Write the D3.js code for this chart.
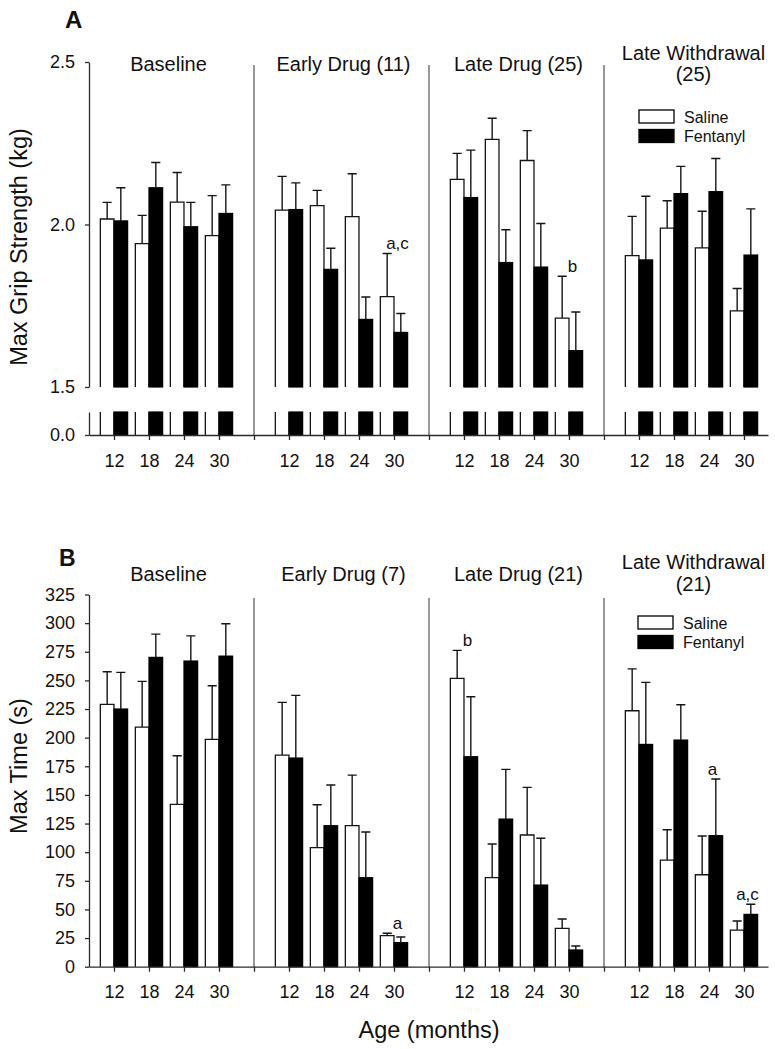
<!DOCTYPE html>
<html><head><meta charset="utf-8">
<script src="https://cdn.jsdelivr.net/npm/d3@7"></script>
<style>
body{margin:0;background:#fff}
svg text{font-family:"Liberation Sans",Arial,Helvetica,sans-serif;fill:#111}
</style>
</head><body>
<svg id="c" width="775" height="1049"></svg>
<script>
// ---------- data ----------
const ages = [12, 18, 24, 30];
const phasesA = [["Baseline"], ["Early Drug (11)"], ["Late Drug (25)"], ["Late Withdrawal", "(25)"]];
const phasesB = [["Baseline"], ["Early Drug (7)"], ["Late Drug (21)"], ["Late Withdrawal", "(21)"]];
const seriesNames = ["Saline", "Fentanyl"];

// Panel A: max grip strength (kg), 4 phases x 4 ages
const gripSaline    = [2.017, 1.941, 2.069, 1.966,  2.044, 2.058, 2.024, 1.778,  2.139, 2.262, 2.197, 1.712,  1.904, 1.989, 1.928, 1.734];
const gripSalineSem = [0.051, 0.087, 0.091, 0.123,  0.104, 0.047, 0.132, 0.133,  0.080, 0.065, 0.092, 0.129,  0.121, 0.084, 0.113, 0.069];
const gripFent      = [2.011, 2.113, 1.993, 2.034,  2.046, 1.862, 1.708, 1.668,  2.083, 1.883, 1.869, 1.612,  1.891, 2.095, 2.101, 1.906];
const gripFentSem   = [0.102, 0.078, 0.075, 0.088,  0.082, 0.065, 0.069, 0.058,  0.146, 0.101, 0.134, 0.119,  0.196, 0.084, 0.102, 0.142];
const gripTicks = [1.5, 2.0, 2.5];
const gripLowTicks = [0.0];
const gripNotes = [{phase: 1, age: 3, text: "a,c"}, {phase: 2, age: 3, text: "b"}];

// Panel B: max time (s)
const timeSaline    = [229.0, 209.2, 141.8, 198.5,  184.8, 103.9, 123.1, 27.1,  251.7, 77.7, 115.0, 33.5,  223.5, 93.1, 80.3, 32.0];
const timeSalineSem = [28.5, 39.9, 42.4, 46.8,  46.0, 37.5, 44.2, 2.1,  24.5, 29.4, 41.6, 8.1,  36.6, 26.5, 33.8, 7.9];
const timeFent      = [225.0, 270.1, 266.9, 271.2,  182.2, 123.1, 77.7, 21.0,  183.3, 128.9, 71.3, 14.6,  194.1, 197.9, 114.4, 45.7];
const timeFentSem   = [32.0, 20.3, 22.0, 28.2,  54.7, 35.5, 39.9, 4.9,  52.4, 43.4, 40.8, 3.5,  54.2, 30.8, 49.5, 8.8];
const timeTicks = d3.range(0, 326, 25);
const timeNotes = [{phase: 1, age: 3, text: "a"}, {phase: 2, age: 0, text: "b"}, {phase: 3, age: 1 + 1, text: "a"}, {phase: 3, age: 3, text: "a,c"}];

// ---------- drawing ----------
const svg = d3.select("#c");
const FONT = '"Liberation Sans",Arial,Helvetica,sans-serif';
const INK = "#151515";
const LINE = "#2a2a2a";

const x = d3.scaleLinear().domain([-0.714, 18.686]).range([89, 768]);
const slot = (p, a) => p * 5 + a;
const BW = 0.39, CAP = 0.13;
const dividers = [4, 9, 14];

function styleAxis(g, fs) {
  g.attr("font-family", FONT).attr("font-size", fs);
  g.selectAll("path.domain").attr("stroke", LINE).attr("stroke-width", 1.3);
  g.selectAll(".tick line").attr("stroke", LINE).attr("stroke-width", 1.3);
  g.selectAll(".tick text").attr("fill", INK);
}

function xAxis(y0) {
  const tv = [];
  for (let p = 0; p < 4; p++) for (let a = 0; a < 4; a++) tv.push(slot(p, a));
  dividers.forEach(d => tv.push(d));
  const g = svg.append("g").attr("transform", `translate(0,${y0})`)
    .call(d3.axisBottom(x).tickValues(tv).tickFormat(d => (d % 5 === 4 ? "" : ages[d % 5]))
      .tickSize(5).tickSizeOuter(0).tickPadding(14));
  styleAxis(g, 18);
}

function dividerLines(yTop, y0) {
  svg.append("g").selectAll("line").data(dividers).join("line")
    .attr("x1", d => x(d)).attr("x2", d => x(d))
    .attr("y1", yTop).attr("y2", y0)
    .attr("stroke", "#444").attr("stroke-width", 1.1);
}

function titles(phases, y1, lineH) {
  phases.forEach((lines, p) => {
    const cx = (x(slot(p, 0)) + x(slot(p, 3))) / 2 + 2;
    const n = lines.length;
    lines.forEach((t, i) => {
      svg.append("text").attr("x", cx)
        .attr("y", n === 1 ? y1 : y1 - lineH + 10 + i * lineH)
        .attr("text-anchor", "middle").attr("font-size", 20).text(t);
    });
  });
}

function legend(x0, y0) {
  seriesNames.forEach((s, i) => {
    svg.append("rect").attr("x", x0).attr("y", y0 + i * 19.5).attr("width", 35).attr("height", 13)
      .attr("fill", i ? "#000" : "#fff").attr("stroke", "#000").attr("stroke-width", 1.3);
    svg.append("text").attr("x", x0 + 45).attr("y", y0 + i * 19.5 + 12.5)
      .attr("font-size", 16).text(s);
  });
}

function bars(y, baseY, sal, salSem, fen, fenSem, broken) {
  const g = svg.append("g");
  const data = [];
  for (let p = 0; p < 4; p++) for (let a = 0; a < 4; a++) {
    const i = p * 4 + a, s = slot(p, a);
    data.push({x0: s - BW, x1: s, v: sal[i], e: salSem[i], fill: "#fff"});
    data.push({x0: s, x1: s + BW, v: fen[i], e: fenSem[i], fill: "#000"});
  }
  data.forEach(d => {
    const xa = x(d.x0), xb = x(d.x1), top = y(d.v);
    g.append("rect").attr("x", xa).attr("y", top).attr("width", xb - xa).attr("height", baseY - top)
      .attr("fill", d.fill);
    if (d.fill === "#000") {
      g.append("rect").attr("x", xa).attr("y", top).attr("width", xb - xa).attr("height", baseY - top)
        .attr("fill", "#000").attr("stroke", "#000").attr("stroke-width", 1.2);
    } else {
      g.append("path").attr("d", `M${xa},${baseY}V${top}H${xb}V${baseY}`)
        .attr("fill", "none").attr("stroke", INK).attr("stroke-width", 1.3);
    }
    if (broken) {
      const [lt, lb] = broken;
      if (d.fill === "#000") {
        g.append("rect").attr("x", xa).attr("y", lt).attr("width", xb - xa).attr("height", lb - lt)
          .attr("fill", "#000").attr("stroke", "#000").attr("stroke-width", 1.2);
      } else {
        g.append("path").attr("d", `M${xa},${lt}V${lb}M${xb},${lt}V${lb}`)
          .attr("fill", "none").attr("stroke", INK).attr("stroke-width", 1.3);
      }
    }
    // error bar (upward only)
    const cx = x((d.x0 + d.x1) / 2), et = y(d.v + d.e);
    g.append("path").attr("d", `M${cx},${top}V${et}M${x((d.x0 + d.x1) / 2 - CAP)},${et}H${x((d.x0 + d.x1) / 2 + CAP)}`)
      .attr("fill", "none").attr("stroke", INK).attr("stroke-width", 1.4);
  });
}

function notes(list, y, sal, salSem, fen, fenSem) {
  list.forEach(n => {
    const i = n.phase * 4 + n.age;
    const top = Math.max(sal[i] + salSem[i], fen[i] + fenSem[i]);
    svg.append("text").attr("x", x(slot(n.phase, n.age) + 0.1)).attr("y", y(top) - 4)
      .attr("text-anchor", "middle").attr("font-size", 17).text(n.text);
  });
}

// ===== Panel A =====
const yA = d3.scaleLinear().domain([1.5, 2.5]).range([387, 62]);
const aBase = 435, aLowTop = 412;
const yA0 = d3.scaleLinear().domain([0, 0.07]).range([aBase, aLowTop]);

bars(yA, yA(1.5), gripSaline, gripSalineSem, gripFent, gripFentSem, [aLowTop, aBase]);
dividerLines(65, aBase);
const gA = svg.append("g").attr("transform", "translate(89,0)")
  .call(d3.axisLeft(yA).tickValues(gripTicks).tickFormat(d3.format(".1f")).tickSize(4).tickSizeOuter(0).tickPadding(10));
styleAxis(gA, 18);
const gA0 = svg.append("g").attr("transform", "translate(89,0)")
  .call(d3.axisLeft(yA0).tickValues(gripLowTicks).tickFormat(d3.format(".1f")).tickSize(4).tickSizeOuter(0).tickPadding(10));
styleAxis(gA0, 18);
xAxis(aBase);
titles(phasesA, 71, 21);
legend(639, 110);
notes(gripNotes, yA, gripSaline, gripSalineSem, gripFent, gripFentSem);

svg.append("text").attr("x", 65).attr("y", 28).attr("font-size", 24).attr("font-weight", "bold").text("A");
svg.append("text").attr("transform", "translate(27,247) rotate(-90)").attr("text-anchor", "middle")
  .attr("font-size", 23.5).text("Max Grip Strength (kg)");

// ===== Panel B =====
const yB = d3.scaleLinear().domain([0, 325]).range([966.7, 594.5]);
bars(yB, yB(0), timeSaline, timeSalineSem, timeFent, timeFentSem, null);
dividerLines(598, yB(0));
const gB = svg.append("g").attr("transform", "translate(89,0)")
  .call(d3.axisLeft(yB).tickValues(timeTicks).tickSize(4).tickSizeOuter(0).tickPadding(10));
styleAxis(gB, 18);
xAxis(yB(0));
titles(phasesB, 581, 22);
legend(638, 616);
notes(timeNotes, yB, timeSaline, timeSalineSem, timeFent, timeFentSem);

svg.append("text").attr("x", 59).attr("y", 566).attr("font-size", 23).attr("font-weight", "bold").text("B");
svg.append("text").attr("transform", "translate(27,766) rotate(-90)").attr("text-anchor", "middle")
  .attr("font-size", 23.5).text("Max Time (s)");
svg.append("text").attr("x", 429).attr("y", 1038).attr("text-anchor", "middle")
  .attr("font-size", 23.5).text("Age (months)");
</script>
</body></html>
